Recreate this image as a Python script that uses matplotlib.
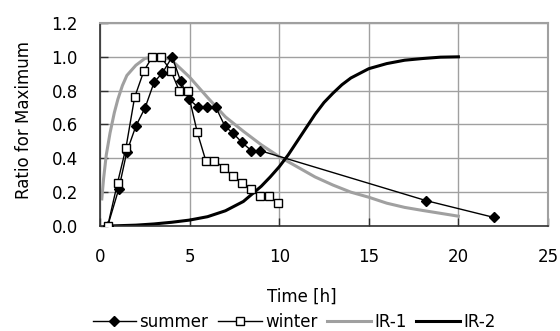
import matplotlib
matplotlib.use("Agg")
import matplotlib.pyplot as plt

plt.rcParams['font.family'] = ['DejaVu Sans']

summer_x = [0.43, 1.05, 1.5, 2.0, 2.52, 3.02, 3.48, 4.03, 4.5, 4.95, 5.45, 5.95, 6.45, 6.97, 7.44, 7.92, 8.45, 8.95, 18.2, 21.97]
summer_y = [0.0, 0.22, 0.44, 0.59, 0.70, 0.85, 0.905, 1.0, 0.856, 0.75, 0.705, 0.705, 0.705, 0.59, 0.547, 0.494, 0.445, 0.445, 0.15, 0.051]

winter_x = [0.43, 0.98, 1.45, 1.93, 2.45, 2.92, 3.40, 3.96, 4.42, 4.89, 5.43, 5.91, 6.38, 6.92, 7.40, 7.90, 8.42, 8.92, 9.41, 9.95]
winter_y = [0.0, 0.256, 0.463, 0.76, 0.917, 1.0, 1.0, 0.917, 0.80, 0.80, 0.553, 0.384, 0.384, 0.345, 0.295, 0.256, 0.217, 0.177, 0.177, 0.138]

ir1_x = [0.1, 0.2, 0.35, 0.56, 0.8, 1.0, 1.25, 1.5, 2.0, 2.5, 3.0, 3.5, 4.0, 4.5, 5.0, 6.0, 7.0, 8.0, 9.0, 10.0, 11.0, 12.0, 13.0, 14.0, 15.0, 16.0, 17.0, 18.0, 19.0, 20.0]
ir1_y = [0.16, 0.28, 0.42, 0.55, 0.67, 0.75, 0.83, 0.89, 0.95, 0.99, 1.0, 1.0, 0.98, 0.93, 0.88, 0.76, 0.645, 0.56, 0.48, 0.41, 0.35, 0.29, 0.242, 0.20, 0.17, 0.135, 0.11, 0.092, 0.075, 0.058]

ir2_x = [0.5, 2, 3, 4, 5, 6, 7, 8, 9, 9.5, 10, 10.5, 11, 11.5, 12, 12.5, 13, 13.5, 14, 15, 16, 17, 18, 19, 20]
ir2_y = [0.0, 0.005, 0.012, 0.022, 0.035, 0.055, 0.09, 0.145, 0.235, 0.29, 0.35, 0.42, 0.50, 0.58, 0.66, 0.73, 0.785, 0.835, 0.875, 0.93, 0.96, 0.98, 0.99, 0.998, 1.0]

xticks = [0, 5, 10, 15, 20, 25]
yticks = [0.0, 0.2, 0.4, 0.6, 0.8, 1.0, 1.2]

fig = plt.figure(figsize=(5.6, 3.31), dpi=100)
ax = fig.add_axes([100/560, 1-226/331, 448/560, 203/331])

ax.plot(ir1_x, ir1_y, color='#a0a0a0', lw=2.2, label='IR-1', zorder=2)
ax.plot(ir2_x, ir2_y, color='black', lw=2.2, label='IR-2', zorder=2)
l_s, = ax.plot(summer_x, summer_y, color='black', lw=1, marker='D', ms=5.5,
               mfc='black', mec='black', label='summer', zorder=3)
l_w, = ax.plot(winter_x, winter_y, color='black', lw=1, marker='s', ms=6,
               mfc='white', mec='black', mew=1, label='winter', zorder=4)

ax.set_xlim(0, 25)
ax.set_ylim(0, 1.2)
ax.set_xticks(xticks)
ax.set_yticks(yticks)
ax.set_yticklabels([f"{v:.1f}" for v in yticks])
ax.grid(True, color='#a0a0a0', lw=1)
ax.set_axisbelow(True)
ax.tick_params(direction='in', length=6, width=1, color='#303030', labelsize=12, pad=16)
for s in ['left', 'bottom']:
    ax.spines[s].set_color('#303030')
    ax.spines[s].set_linewidth(1.2)
for s in ['top', 'right']:
    ax.spines[s].set_color('#a0a0a0')
    ax.spines[s].set_linewidth(1.5)

fig.text(24/560, 1-120/331, 'Ratio for Maximum', rotation=90, fontsize=12,
         ha='center', va='center')
fig.text(302/560, 1-297/331, 'Time [h]', fontsize=12, ha='center', va='center')

handles = [l_s, l_w] + ax.get_lines()[:2]
labels = ['summer', 'winter', 'IR-1', 'IR-2']
fig.legend(handles, labels, loc='center', bbox_to_anchor=(294/560, 1-322/331),
           ncol=4, frameon=False, fontsize=12, handlelength=2.6,
           handletextpad=0.2, columnspacing=0.6, borderpad=0, borderaxespad=0)

fig.savefig('out.png', dpi=100)
